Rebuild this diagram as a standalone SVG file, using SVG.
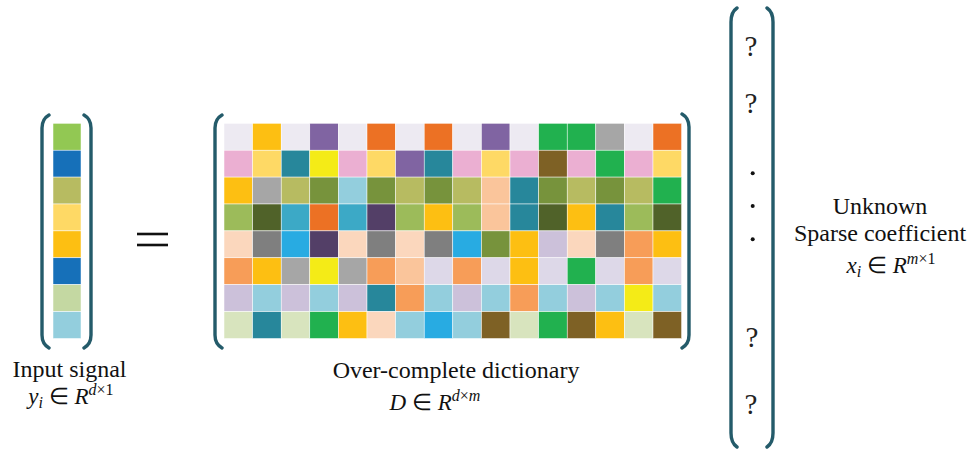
<svg xmlns="http://www.w3.org/2000/svg" width="970" height="459" viewBox="0 0 970 459">
<style>
.br{fill:none;stroke:#245b6a;stroke-width:3.4;stroke-linecap:round}
.lbl{font-family:"Liberation Serif","Times New Roman",serif;font-size:24px;fill:#111;text-anchor:middle}
.math{font-family:"Liberation Serif","Times New Roman",serif;font-size:23px;fill:#111;text-anchor:middle}
.it{font-style:italic}
.sb{font-size:16px}
.q{font-family:"Liberation Serif","Times New Roman",serif;font-size:29px;fill:#222;text-anchor:middle}
rect{stroke:#ffffff;stroke-width:0.5}
.W{fill:#edeaf2}.Y{fill:#fdbf12}.P{fill:#8064a2}.O{fill:#ec7124}.G{fill:#21b14f}.Gr{fill:#a6a6a6}
.Pk{fill:#ebafd2}.LY{fill:#fed965}.T{fill:#27879b}.Ye{fill:#f4eb17}.Br{fill:#7e6125}.Ol{fill:#b7bb61}
.DG{fill:#77933c}.LB{fill:#93cedd}.LG{fill:#9cbb5a}.DO{fill:#506229}.Cy{fill:#3ca9c6}.DP{fill:#533f67}
.Pe{fill:#fbd7bd}.DGr{fill:#7f7f7f}.SB{fill:#28abe2}.LO{fill:#f79d58}.LPe{fill:#fac59b}.LL{fill:#ddd8e8}
.Lv{fill:#ccc1da}.PG{fill:#d8e4be}.IG{fill:#92c853}.Bl{fill:#1670b9}.PG2{fill:#c4d8a2}
</style>

<g id="input-signal">
  <path class="br" d="M49 115 Q42 119 42 128 V335 Q42 344 49 348"/>
  <path class="br" d="M84 115 Q91 119 91 128 V335 Q91 344 84 348"/>
  <rect class="IG" x="53" y="123.3" width="28" height="26.9"/>
  <rect class="Bl" x="53" y="150.2" width="28" height="26.9"/>
  <rect class="Ol" x="53" y="177.1" width="28" height="26.9"/>
  <rect class="LY" x="53" y="204" width="28" height="26.9"/>
  <rect class="Y" x="53" y="230.9" width="28" height="26.9"/>
  <rect class="Bl" x="53" y="257.8" width="28" height="26.9"/>
  <rect class="PG2" x="53" y="284.7" width="28" height="26.9"/>
  <rect class="LB" x="53" y="311.6" width="28" height="26.9"/>
  <text class="lbl" x="69.5" y="376.5">Input signal</text>
  <text class="math" x="71" y="404"><tspan class="it">y</tspan><tspan class="it sb" dy="4">i</tspan><tspan dy="-4"> ∈ </tspan><tspan class="it">R</tspan><tspan class="sb" dy="-9"><tspan class="it">d</tspan>×1</tspan></text>
</g>

<g id="equals">
  <line x1="137" y1="234" x2="168" y2="234" stroke="#111" stroke-width="2.6"/>
  <line x1="137" y1="245" x2="168" y2="245" stroke="#111" stroke-width="2.6"/>
</g>

<g id="dictionary">
  <path class="br" d="M222 115 Q215 119 215 128 V335 Q215 344 222 348"/>
  <path class="br" d="M682 114 Q689 118 689 127 V335 Q689 344 682 348"/>
  <g transform="translate(0,123.3)">
    <rect class="W" x="224" width="28.6" height="26.9"/><rect class="Y" x="252.6" width="28.6" height="26.9"/><rect class="W" x="281.2" width="28.6" height="26.9"/><rect class="P" x="309.8" width="28.6" height="26.9"/><rect class="W" x="338.4" width="28.6" height="26.9"/><rect class="O" x="367" width="28.6" height="26.9"/><rect class="W" x="395.6" width="28.6" height="26.9"/><rect class="O" x="424.2" width="28.6" height="26.9"/><rect class="W" x="452.8" width="28.6" height="26.9"/><rect class="P" x="481.4" width="28.6" height="26.9"/><rect class="W" x="510" width="28.6" height="26.9"/><rect class="G" x="538.6" width="28.6" height="26.9"/><rect class="G" x="567.2" width="28.6" height="26.9"/><rect class="Gr" x="595.8" width="28.6" height="26.9"/><rect class="W" x="624.4" width="28.6" height="26.9"/><rect class="O" x="653" width="28.6" height="26.9"/>
  </g>
  <g transform="translate(0,150.2)">
    <rect class="Pk" x="224" width="28.6" height="26.9"/><rect class="LY" x="252.6" width="28.6" height="26.9"/><rect class="T" x="281.2" width="28.6" height="26.9"/><rect class="Ye" x="309.8" width="28.6" height="26.9"/><rect class="Pk" x="338.4" width="28.6" height="26.9"/><rect class="LY" x="367" width="28.6" height="26.9"/><rect class="P" x="395.6" width="28.6" height="26.9"/><rect class="T" x="424.2" width="28.6" height="26.9"/><rect class="Pk" x="452.8" width="28.6" height="26.9"/><rect class="LY" x="481.4" width="28.6" height="26.9"/><rect class="Pk" x="510" width="28.6" height="26.9"/><rect class="Br" x="538.6" width="28.6" height="26.9"/><rect class="Pk" x="567.2" width="28.6" height="26.9"/><rect class="G" x="595.8" width="28.6" height="26.9"/><rect class="Pk" x="624.4" width="28.6" height="26.9"/><rect class="LY" x="653" width="28.6" height="26.9"/>
  </g>
  <g transform="translate(0,177.1)">
    <rect class="Y" x="224" width="28.6" height="26.9"/><rect class="Gr" x="252.6" width="28.6" height="26.9"/><rect class="Ol" x="281.2" width="28.6" height="26.9"/><rect class="DG" x="309.8" width="28.6" height="26.9"/><rect class="LB" x="338.4" width="28.6" height="26.9"/><rect class="DG" x="367" width="28.6" height="26.9"/><rect class="Ol" x="395.6" width="28.6" height="26.9"/><rect class="DG" x="424.2" width="28.6" height="26.9"/><rect class="Ol" x="452.8" width="28.6" height="26.9"/><rect class="LPe" x="481.4" width="28.6" height="26.9"/><rect class="T" x="510" width="28.6" height="26.9"/><rect class="DG" x="538.6" width="28.6" height="26.9"/><rect class="Ol" x="567.2" width="28.6" height="26.9"/><rect class="DG" x="595.8" width="28.6" height="26.9"/><rect class="Ol" x="624.4" width="28.6" height="26.9"/><rect class="G" x="653" width="28.6" height="26.9"/>
  </g>
  <g transform="translate(0,204)">
    <rect class="LG" x="224" width="28.6" height="26.9"/><rect class="DO" x="252.6" width="28.6" height="26.9"/><rect class="Cy" x="281.2" width="28.6" height="26.9"/><rect class="O" x="309.8" width="28.6" height="26.9"/><rect class="Cy" x="338.4" width="28.6" height="26.9"/><rect class="DP" x="367" width="28.6" height="26.9"/><rect class="LG" x="395.6" width="28.6" height="26.9"/><rect class="Y" x="424.2" width="28.6" height="26.9"/><rect class="LG" x="452.8" width="28.6" height="26.9"/><rect class="LPe" x="481.4" width="28.6" height="26.9"/><rect class="T" x="510" width="28.6" height="26.9"/><rect class="DO" x="538.6" width="28.6" height="26.9"/><rect class="Y" x="567.2" width="28.6" height="26.9"/><rect class="T" x="595.8" width="28.6" height="26.9"/><rect class="LG" x="624.4" width="28.6" height="26.9"/><rect class="DO" x="653" width="28.6" height="26.9"/>
  </g>
  <g transform="translate(0,230.9)">
    <rect class="Pe" x="224" width="28.6" height="26.9"/><rect class="DGr" x="252.6" width="28.6" height="26.9"/><rect class="SB" x="281.2" width="28.6" height="26.9"/><rect class="DP" x="309.8" width="28.6" height="26.9"/><rect class="Pe" x="338.4" width="28.6" height="26.9"/><rect class="DGr" x="367" width="28.6" height="26.9"/><rect class="Pe" x="395.6" width="28.6" height="26.9"/><rect class="DGr" x="424.2" width="28.6" height="26.9"/><rect class="SB" x="452.8" width="28.6" height="26.9"/><rect class="DG" x="481.4" width="28.6" height="26.9"/><rect class="Y" x="510" width="28.6" height="26.9"/><rect class="Lv" x="538.6" width="28.6" height="26.9"/><rect class="Pe" x="567.2" width="28.6" height="26.9"/><rect class="DGr" x="595.8" width="28.6" height="26.9"/><rect class="LO" x="624.4" width="28.6" height="26.9"/><rect class="Y" x="653" width="28.6" height="26.9"/>
  </g>
  <g transform="translate(0,257.8)">
    <rect class="LO" x="224" width="28.6" height="26.9"/><rect class="Y" x="252.6" width="28.6" height="26.9"/><rect class="Gr" x="281.2" width="28.6" height="26.9"/><rect class="Ye" x="309.8" width="28.6" height="26.9"/><rect class="Gr" x="338.4" width="28.6" height="26.9"/><rect class="LO" x="367" width="28.6" height="26.9"/><rect class="LPe" x="395.6" width="28.6" height="26.9"/><rect class="LL" x="424.2" width="28.6" height="26.9"/><rect class="LO" x="452.8" width="28.6" height="26.9"/><rect class="LL" x="481.4" width="28.6" height="26.9"/><rect class="Y" x="510" width="28.6" height="26.9"/><rect class="LL" x="538.6" width="28.6" height="26.9"/><rect class="G" x="567.2" width="28.6" height="26.9"/><rect class="LL" x="595.8" width="28.6" height="26.9"/><rect class="LO" x="624.4" width="28.6" height="26.9"/><rect class="LL" x="653" width="28.6" height="26.9"/>
  </g>
  <g transform="translate(0,284.7)">
    <rect class="Lv" x="224" width="28.6" height="26.9"/><rect class="LB" x="252.6" width="28.6" height="26.9"/><rect class="Lv" x="281.2" width="28.6" height="26.9"/><rect class="LB" x="309.8" width="28.6" height="26.9"/><rect class="Lv" x="338.4" width="28.6" height="26.9"/><rect class="T" x="367" width="28.6" height="26.9"/><rect class="LO" x="395.6" width="28.6" height="26.9"/><rect class="LB" x="424.2" width="28.6" height="26.9"/><rect class="Lv" x="452.8" width="28.6" height="26.9"/><rect class="LB" x="481.4" width="28.6" height="26.9"/><rect class="LO" x="510" width="28.6" height="26.9"/><rect class="LB" x="538.6" width="28.6" height="26.9"/><rect class="Lv" x="567.2" width="28.6" height="26.9"/><rect class="LB" x="595.8" width="28.6" height="26.9"/><rect class="Ye" x="624.4" width="28.6" height="26.9"/><rect class="LB" x="653" width="28.6" height="26.9"/>
  </g>
  <g transform="translate(0,311.6)">
    <rect class="PG" x="224" width="28.6" height="26.9"/><rect class="T" x="252.6" width="28.6" height="26.9"/><rect class="PG" x="281.2" width="28.6" height="26.9"/><rect class="G" x="309.8" width="28.6" height="26.9"/><rect class="Y" x="338.4" width="28.6" height="26.9"/><rect class="Pe" x="367" width="28.6" height="26.9"/><rect class="LB" x="395.6" width="28.6" height="26.9"/><rect class="SB" x="424.2" width="28.6" height="26.9"/><rect class="LB" x="452.8" width="28.6" height="26.9"/><rect class="Br" x="481.4" width="28.6" height="26.9"/><rect class="PG" x="510" width="28.6" height="26.9"/><rect class="G" x="538.6" width="28.6" height="26.9"/><rect class="Br" x="567.2" width="28.6" height="26.9"/><rect class="Y" x="595.8" width="28.6" height="26.9"/><rect class="PG" x="624.4" width="28.6" height="26.9"/><rect class="Br" x="653" width="28.6" height="26.9"/>
  </g>
  <text class="lbl" x="456" y="378">Over-complete dictionary</text>
  <text class="math" x="435" y="410"><tspan class="it">D</tspan> ∈ <tspan class="it">R</tspan><tspan class="sb" dy="-9"><tspan class="it">d</tspan>×<tspan class="it">m</tspan></tspan></text>
</g>

<g id="sparse-coefficient">
  <path class="br" d="M737 8 Q731 12 731 22 V433 Q731 443 737 447"/>
  <path class="br" d="M767 8 Q773 12 773 22 V433 Q773 443 767 447"/>
  <text class="q" x="751" y="56">?</text>
  <text class="q" x="751" y="113">?</text>
  <circle cx="752.7" cy="173.3" r="2" fill="#111"/>
  <circle cx="752.7" cy="206" r="2" fill="#111"/>
  <circle cx="752.7" cy="239.3" r="2" fill="#111"/>
  <text class="q" x="752" y="347">?</text>
  <text class="q" x="751" y="414">?</text>
  <text class="lbl" x="880" y="214">Unknown</text>
  <text class="lbl" x="880" y="241">Sparse coefficient</text>
  <text class="math" x="891" y="273"><tspan class="it">x</tspan><tspan class="it sb" dy="4">i</tspan><tspan dy="-4"> ∈ </tspan><tspan class="it">R</tspan><tspan class="sb" dy="-9"><tspan class="it">m</tspan>×1</tspan></text>
</g>
</svg>
